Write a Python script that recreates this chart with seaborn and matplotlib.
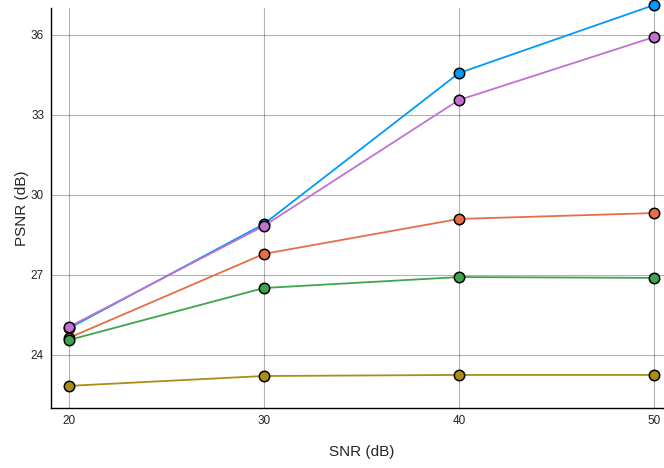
import pandas as pd
import matplotlib
matplotlib.use("Agg")
import matplotlib.pyplot as plt
import seaborn as sns

sns.set_style("white")
plt.rcParams["font.family"] = ["Liberation Sans", "DejaVu Sans"]

# ── Data ──────────────────────────────────────────────────
snr = [20, 30, 40, 50]
series_names = ["series 1", "series 2", "series 3", "series 4", "series 5"]
psnr_1 = [25.00, 28.91, 34.57, 37.12]
psnr_2 = [24.64, 27.79, 29.10, 29.32]
psnr_3 = [24.56, 26.51, 26.92, 26.89]
psnr_4 = [25.05, 28.84, 33.56, 35.92]
psnr_5 = [22.84, 23.21, 23.25, 23.25]
colors = ["#009AFA", "#E36F47", "#3EA44E", "#C271D2", "#AC8D18"]

rows = []
for name, vals in zip(series_names, [psnr_1, psnr_2, psnr_3, psnr_4, psnr_5]):
    for x, y in zip(snr, vals):
        rows.append({"SNR": x, "PSNR": y, "method": name})
df = pd.DataFrame(rows)

# ── Plot ──────────────────────────────────────────────────
fig = plt.figure(figsize=(6.64, 4.68), dpi=100)
ax = fig.add_axes([0.0768, 0.1282, 0.9345, 0.8547])

for name, col in zip(series_names, colors):
    sub = df[df["method"] == name]
    sns.lineplot(data=sub, x="SNR", y="PSNR", color=col, marker="o",
                 markersize=7.5, markeredgecolor="black", markeredgewidth=1.1,
                 linewidth=1.3, clip_on=False, ax=ax, legend=False)

ax.set_xlim(19.08, 50.9)
ax.set_ylim(22.01, 37.01)
ax.set_xticks(snr)
ax.set_yticks([24, 27, 30, 33, 36])
ax.grid(True, color="black", alpha=0.3, linewidth=0.8)
ax.set_axisbelow(True)
for side in ["top", "right"]:
    ax.spines[side].set_visible(False)
for side in ["left", "bottom"]:
    ax.spines[side].set_color("black")
    ax.spines[side].set_linewidth(1.0)
ax.tick_params(direction="in", length=4, width=0.8, labelsize=8.5,
               colors="#222222", pad=5)
ax.set_xlabel("SNR (dB)", fontsize=11, va="center")
ax.set_ylabel("PSNR (dB)", fontsize=11, va="center")
ax.xaxis.set_label_coords(0.50, -0.11)
ax.yaxis.set_label_coords(-0.047, 0.5)

fig.savefig("out.png", dpi=100)
